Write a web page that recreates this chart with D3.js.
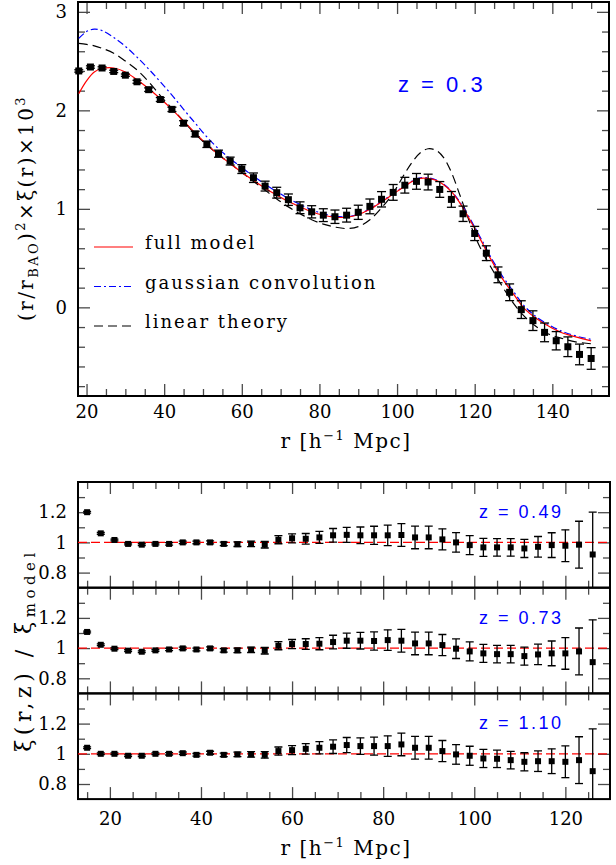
<!DOCTYPE html>
<html>
<head>
<meta charset="utf-8">
<script src="https://cdn.jsdelivr.net/npm/d3@7"></script>
<style>
  body { margin: 0; background: #fff; }
  text { font-family: "DejaVu Serif", serif; fill: #000; }
  .zlab { font-family: "Liberation Sans", "DejaVu Sans", sans-serif; fill: #0000ff; }
</style>
</head>
<body>
<div id="chart"></div>
<script>

// ---- top panel: measured correlation function (z = 0.3)
const rTop = [18, 21, 24, 27, 30, 33, 36, 39, 42, 45, 48, 51, 54, 57, 60, 63, 66, 69, 72, 75, 78, 81, 84,
  87, 90, 93, 96, 99, 102, 105, 108, 111, 114, 117, 120, 123, 126, 129, 132, 135, 138, 141, 144, 147, 150]
const xiTop = [2.40, 2.44, 2.43, 2.395, 2.357, 2.29, 2.21, 2.11, 2.01, 1.87, 1.76, 1.655, 1.56, 1.485, 1.404,
  1.316, 1.231, 1.164, 1.093, 1.011, 0.97, 0.936, 0.92, 0.936, 0.965, 1.025, 1.097, 1.167, 1.24, 1.279,
  1.272, 1.197, 1.096, 0.95, 0.75, 0.55, 0.33, 0.153, -0.023, -0.135, -0.254, -0.339, -0.40, -0.478, -0.519]
const errTop = [0.012, 0.012, 0.012, 0.012, 0.012, 0.015, 0.018, 0.02, 0.022, 0.025, 0.028, 0.032, 0.036,
  0.04, 0.045, 0.048, 0.05, 0.055, 0.058, 0.06, 0.062, 0.065, 0.068, 0.07, 0.072, 0.075, 0.078, 0.08, 0.08,
  0.08, 0.08, 0.08, 0.08, 0.078, 0.072, 0.075, 0.08, 0.085, 0.09, 0.1, 0.095, 0.093, 0.1, 0.105, 0.11]

// model curves
const rModel = [18, 20, 22, 24, 27, 30, 33, 36, 39, 42, 45, 48, 51, 54, 57, 60, 63, 66, 69, 72, 75, 78, 81,
  84, 87, 90, 93, 96, 99, 102, 104, 106, 108, 110, 112, 114, 116, 118, 120, 122, 124, 127, 130, 133, 136,
  139, 142, 146, 150]
const fullModel = [2.17, 2.30, 2.39, 2.425, 2.43, 2.39, 2.31, 2.22, 2.12, 2.01, 1.89, 1.77, 1.655, 1.55,
  1.46, 1.37, 1.29, 1.21, 1.14, 1.075, 1.02, 0.97, 0.935, 0.915, 0.915, 0.94, 0.995, 1.07, 1.15, 1.23,
  1.28, 1.31, 1.31, 1.29, 1.245, 1.175, 1.07, 0.94, 0.80, 0.65, 0.50, 0.30, 0.135, -0.02, -0.115, -0.19,
  -0.25, -0.30, -0.34]
const gaussConv = [2.73, 2.80, 2.825, 2.81, 2.74, 2.65, 2.54, 2.42, 2.29, 2.155, 2.01, 1.87, 1.73, 1.61,
  1.51, 1.42, 1.33, 1.25, 1.175, 1.105, 1.045, 0.99, 0.95, 0.925, 0.92, 0.945, 1.0, 1.075, 1.155, 1.235,
  1.285, 1.315, 1.315, 1.295, 1.25, 1.18, 1.08, 0.955, 0.815, 0.67, 0.52, 0.325, 0.16, 0.005, -0.1,
  -0.175, -0.235, -0.29, -0.325]
const linearTheory = [2.68, 2.67, 2.655, 2.63, 2.58, 2.50, 2.41, 2.29, 2.15, 2.02, 1.89, 1.76, 1.65, 1.55,
  1.46, 1.37, 1.28, 1.19, 1.10, 1.02, 0.95, 0.89, 0.845, 0.815, 0.80, 0.82, 0.89, 1.01, 1.16, 1.36, 1.48,
  1.57, 1.61, 1.595, 1.52, 1.37, 1.16, 0.94, 0.73, 0.56, 0.42, 0.22, 0.04, -0.10, -0.20, -0.27, -0.31,
  -0.35, -0.37]

// ---- bottom panels: ratio to model at three redshifts
const rRatio = [15, 18, 21, 24, 27, 30, 33, 36, 39, 42, 45, 48, 51, 54, 57, 60, 63, 66, 69, 72, 75, 78, 81,
  84, 87, 90, 93, 96, 99, 102, 105, 108, 111, 114, 117, 120, 123, 126]
const ratio049 = [1.2, 1.06, 1.016, 0.99, 0.985, 0.99, 0.99, 1.0, 1.0, 1.0, 0.99, 0.988, 0.99, 0.985, 1.018,
  1.027, 1.024, 1.033, 1.047, 1.05, 1.047, 1.047, 1.047, 1.049, 1.033, 1.033, 1.02, 1.0, 0.982, 0.967,
  0.967, 0.967, 0.96, 0.971, 0.982, 0.978, 0.985, 0.92]
const ratio073 = [1.107, 1.022, 0.996, 0.983, 0.976, 0.985, 0.991, 0.998, 0.991, 0.998, 0.985, 0.985, 0.989,
  0.983, 1.016, 1.027, 1.027, 1.029, 1.04, 1.049, 1.049, 1.047, 1.053, 1.049, 1.031, 1.031, 1.02, 0.996,
  0.978, 0.965, 0.96, 0.96, 0.947, 0.958, 0.965, 0.965, 0.978, 0.907]
const ratio110 = [1.04, 1.0, 1.0, 0.987, 0.987, 1.0, 1.0, 1.004, 0.993, 1.007, 0.993, 0.996, 0.996, 0.993,
  1.018, 1.024, 1.033, 1.04, 1.047, 1.058, 1.051, 1.051, 1.051, 1.062, 1.04, 1.04, 1.018, 0.996, 0.987,
  0.969, 0.967, 0.958, 0.947, 0.951, 0.951, 0.947, 0.958, 0.885]
const errRatio = [0.006, 0.006, 0.006, 0.006, 0.006, 0.006, 0.008, 0.008, 0.009, 0.01, 0.012, 0.015, 0.018,
  0.022, 0.027, 0.03, 0.035, 0.04, 0.045, 0.05, 0.055, 0.06, 0.068, 0.075, 0.075, 0.075, 0.07, 0.065, 0.063,
  0.06, 0.058, 0.058, 0.06, 0.068, 0.082, 0.105, 0.155, 0.28]
const ratioLabels = ["z = 0.49", "z = 0.73", "z = 1.10"]

// graph sizes
let width = 616
let height = 865

let svg = d3.select("#chart")
  .append("svg")
  .attr("width", width)
  .attr("height", height)
  .style("background", "#fff")

// inward ticks on all four sides of a box
function frameTicks(box, x, y, xMaj, xMin, yMaj, yMin, big, small) {
  let g = svg.append("g").attr("class", "ticks")
  let sets = [[xMaj, yMaj, big], [xMin, yMin, small]]
  sets.forEach(([xs, ys, len]) => {
    g.append("g").attr("transform", `translate(0,${box.bottom})`)
      .call(d3.axisBottom(x).tickValues(xs).tickSize(-len).tickFormat(""))
    g.append("g").attr("transform", `translate(0,${box.top})`)
      .call(d3.axisTop(x).tickValues(xs).tickSize(-len).tickFormat(""))
    g.append("g").attr("transform", `translate(${box.left},0)`)
      .call(d3.axisLeft(y).tickValues(ys).tickSize(-len).tickFormat(""))
    g.append("g").attr("transform", `translate(${box.right},0)`)
      .call(d3.axisRight(y).tickValues(ys).tickSize(-len).tickFormat(""))
  })
  g.selectAll(".domain").remove()
  g.selectAll("line").attr("stroke", "#4a4a4a").attr("stroke-width", 1.3)
  svg.append("rect")
    .attr("x", box.left).attr("y", box.top)
    .attr("width", box.right - box.left).attr("height", box.bottom - box.top)
    .attr("fill", "none").attr("stroke", "#000").attr("stroke-width", 2)
}

function labelAxis(axis, transform, pad) {
  let g = svg.append("g").attr("transform", transform)
    .call(axis.tickSize(0).tickPadding(pad))
  g.select(".domain").remove()
  g.selectAll("text")
    .style("font-family", '"DejaVu Serif", serif')
    .style("font-size", "18px")
  return g
}

// error bars + square markers
function drawPoints(g, rs, vs, es, x, y, size, cap) {
  let pts = rs.map((r, i) => ({r: r, v: vs[i], e: es[i]}))
  g.selectAll(".bar").data(pts).enter().append("line")
    .attr("x1", d => x(d.r)).attr("x2", d => x(d.r))
    .attr("y1", d => y(d.v - d.e)).attr("y2", d => y(d.v + d.e))
    .attr("stroke", "#000").attr("stroke-width", 1.3)
  ;[-1, 1].forEach(s => {
    g.selectAll(".cap" + s).data(pts).enter().append("line")
      .attr("x1", d => x(d.r) - cap).attr("x2", d => x(d.r) + cap)
      .attr("y1", d => y(d.v + s * d.e)).attr("y2", d => y(d.v + s * d.e))
      .attr("stroke", "#000").attr("stroke-width", 1.3)
  })
  g.selectAll(".pt").data(pts).enter().append("rect")
    .attr("x", d => x(d.r) - size / 2).attr("y", d => y(d.v) - size / 2)
    .attr("width", size).attr("height", size)
    .attr("fill", "#000")
}

// ================= top panel =================
let topBox = {left: 78, right: 609, top: 2, bottom: 396}
let xTop = d3.scaleLinear().domain([17.8, 154.6]).range([topBox.left, topBox.right])
let yTop = d3.scaleLinear().domain([-0.9, 3.1]).range([topBox.bottom, topBox.top])

frameTicks(topBox, xTop, yTop,
  [20, 40, 60, 80, 100, 120, 140], d3.range(25, 155, 5).filter(v => v % 20 != 0),
  [0, 1, 2, 3], [-0.8, -0.6, -0.4, -0.2, 0.2, 0.4, 0.6, 0.8, 1.2, 1.4, 1.6, 1.8, 2.2, 2.4, 2.6, 2.8],
  12, 7)

labelAxis(d3.axisBottom(xTop).tickValues([20, 40, 60, 80, 100, 120, 140]).tickFormat(d3.format("d")),
  `translate(0,${topBox.bottom})`, 9)
labelAxis(d3.axisLeft(yTop).tickValues([0, 1, 2, 3]).tickFormat(d3.format("d")),
  `translate(${topBox.left},0)`, 11)

let curve = d3.line()
  .x((d, i) => xTop(rModel[i]))
  .y(d => yTop(d))
  .curve(d3.curveCatmullRom)

let models = [
  {vals: linearTheory, color: "#000", dash: "9,5", name: "linear theory"},
  {vals: gaussConv, color: "#0000ff", dash: "7,3,2,3", name: "gaussian convolution"},
  {vals: fullModel, color: "#ff0000", dash: null, name: "full model"}
]
models.forEach(m => {
  svg.append("path")
    .attr("d", curve(m.vals))
    .attr("fill", "none")
    .attr("stroke", m.color)
    .attr("stroke-width", 1.2)
    .attr("stroke-dasharray", m.dash)
})

drawPoints(svg.append("g"), rTop, xiTop, errTop, xTop, yTop, 7, 4.5)

// legend
let legend = svg.append("g").attr("transform", "translate(94,247)")
models.slice().reverse().forEach((m, i) => {
  legend.append("line")
    .attr("x1", 0).attr("x2", 39)
    .attr("y1", i * 39.5).attr("y2", i * 39.5)
    .attr("stroke", m.color).attr("stroke-width", 1.2)
    .attr("stroke-dasharray", m.dash)
  legend.append("text")
    .attr("x", 51).attr("y", i * 39.5 + 2)
    .style("font-size", "18px")
    .style("letter-spacing", "2px")
    .text(m.name)
})

svg.append("text")
  .attr("class", "zlab")
  .attr("x", 398).attr("y", 92)
  .style("font-size", "22px")
  .style("letter-spacing", "3px")
  .text("z = 0.3")

// y title top
let yt = svg.append("text")
  .attr("transform", "translate(33,208) rotate(-90)")
  .attr("text-anchor", "middle")
  .style("font-size", "20px")
  .style("letter-spacing", "2.4px")
yt.append("tspan").text("(r/r")
yt.append("tspan").attr("dy", 5).style("font-size", "13px").text("BAO")
yt.append("tspan").attr("dy", -5).text(")")
yt.append("tspan").attr("dy", -8).style("font-size", "13px").text("2")
yt.append("tspan").attr("dy", 8).text("×ξ(r)×10")
yt.append("tspan").attr("dy", -8).style("font-size", "13px").text("3")

function xTitle(yPos) {
  let t = svg.append("text")
    .attr("x", 346).attr("y", yPos)
    .attr("text-anchor", "middle")
    .style("font-size", "20px")
    .style("letter-spacing", "1.5px")
  t.append("tspan").text("r [h")
  t.append("tspan").attr("dy", -8).style("font-size", "13px").text("−1")
  t.append("tspan").attr("dy", 8).text(" Mpc]")
}
xTitle(448)

// ================= bottom panels =================
let xBot = d3.scaleLinear().domain([13, 129.8]).range([78, 610])
let panelH = 105.7
let ratios = [ratio049, ratio073, ratio110]

ratios.forEach((vals, k) => {
  let box = {left: 78, right: 610, top: 482 + k * panelH, bottom: 482 + (k + 1) * panelH}
  let y = d3.scaleLinear().domain([0.7, 1.4]).range([box.bottom, box.top])

  frameTicks(box, xBot, y,
    [20, 40, 60, 80, 100, 120], d3.range(15, 130, 5).filter(v => v % 20 != 0),
    [0.8, 1, 1.2], [0.9, 1.1, 1.3], 12, 7)

  labelAxis(d3.axisLeft(y).tickValues([0.8, 1, 1.2]).tickFormat(d => d == 1 ? "1" : d3.format(".1f")(d)),
    `translate(${box.left},0)`, 11)

  svg.append("line")
    .attr("x1", box.left).attr("x2", box.right)
    .attr("y1", y(1)).attr("y2", y(1))
    .attr("stroke", "#ff0000").attr("stroke-width", 1.2)
    .attr("stroke-dasharray", "9,4")

  let clipId = "clip" + k
  svg.append("clipPath").attr("id", clipId)
    .append("rect")
    .attr("x", box.left).attr("y", box.top)
    .attr("width", box.right - box.left).attr("height", box.bottom - box.top)
  let g = svg.append("g").attr("clip-path", `url(#${clipId})`)
  drawPoints(g, rRatio, vals, errRatio, xBot, y, 6, 4)

  svg.append("text")
    .attr("class", "zlab")
    .attr("x", 479).attr("y", box.top + 36)
    .style("font-size", "18px")
    .style("letter-spacing", "2.5px")
    .text(ratioLabels[k])
})

labelAxis(d3.axisBottom(xBot).tickValues([20, 40, 60, 80, 100, 120]).tickFormat(d3.format("d")),
  `translate(0,${482 + 3 * panelH})`, 13)

let yb = svg.append("text")
  .attr("transform", "translate(31,650) rotate(-90)")
  .attr("text-anchor", "middle")
  .style("font-size", "22px")
  .style("letter-spacing", "4.5px")
yb.append("tspan").text("ξ(r,z)  /  ξ")
yb.append("tspan").attr("dy", 4).style("font-size", "15px").text("model")

xTitle(855)

</script>
</body>
</html>
